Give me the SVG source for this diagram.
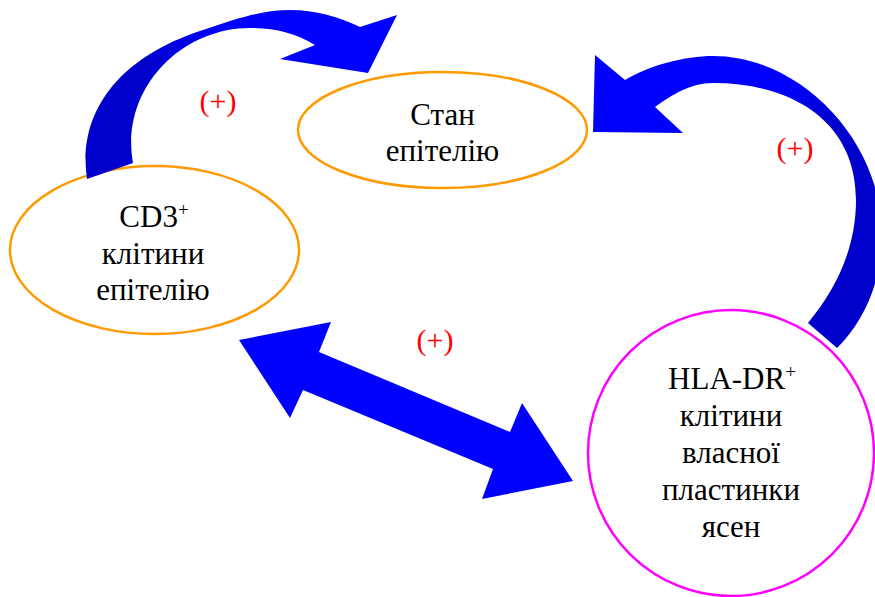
<svg xmlns="http://www.w3.org/2000/svg" width="875" height="597" viewBox="0 0 875 597">
<style>
.node-o{fill:#fff;stroke:#ff9900;stroke-width:2.5}
.node-m{fill:#fff;stroke:#ff00ff;stroke-width:2.5}
.lbl{font-family:"Liberation Serif","Times New Roman",serif;font-size:31px;fill:#000;text-anchor:middle}
.sup{font-size:19px}
.plus{font-family:"Liberation Serif","Times New Roman",serif;font-size:30px;fill:#ff0000;text-anchor:middle}
</style>
<defs>
<linearGradient id="gTop" gradientUnits="userSpaceOnUse" x1="150" y1="70" x2="225" y2="25">
<stop offset="0" stop-color="#0000cc"/>
<stop offset="1" stop-color="#0000ff"/>
</linearGradient>
<linearGradient id="gRight" gradientUnits="userSpaceOnUse" x1="790" y1="75" x2="835" y2="125">
<stop offset="0" stop-color="#0000ff"/>
<stop offset="1" stop-color="#0000cc"/>
</linearGradient>
</defs>
<g id="node-stan">
<ellipse class="node-o" cx="442.5" cy="130" rx="144.5" ry="58"/>
<text class="lbl" x="442.5" y="125">Стан</text>
<text class="lbl" x="442.5" y="161">епітелію</text>
</g>
<g id="node-cd3">
<ellipse class="node-o" cx="154.5" cy="250" rx="144.5" ry="84"/>
<text class="lbl" x="154" y="227">CD3<tspan class="sup" dy="-11">+</tspan></text>
<text class="lbl" x="153" y="264">клітини</text>
<text class="lbl" x="153" y="300">епітелію</text>
</g>
<g id="node-hla">
<circle class="node-m" cx="731" cy="453" r="143"/>
<text class="lbl" x="732" y="389">HLA-DR<tspan class="sup" dy="-11">+</tspan></text>
<text class="lbl" x="731" y="426">клітини</text>
<text class="lbl" x="731" y="463">власної</text>
<text class="lbl" x="731" y="500">пластинки</text>
<text class="lbl" x="731" y="537">ясен</text>
</g>
<g id="connectors">
<path fill="url(#gTop)" d="M87,179 C78,120 110,60 203,30 C240,17 265,10 290,10 C315,10 340,17 360,27 L397,15 L368,73 L280,59 L315,45 C295,33 275,28 250,28 C180,28 120,90 133,163 Z"/>
<path fill="url(#gRight)" d="M625,80 C650,65 685,56 713,56 C800,56 882,140 882,235 C882,280 865,320 837,348 L808,323 C835,290 856,250 856,200 C856,120 790,83 713,83 C690,83 672,95 655,107 L683,133 L593,132 L595,55 Z"/>
<path fill="#0000ff" d="M239,340 L331,322 L319,352 L510,432 L522,403 L573,481 L482,499 L493,469 L303,390 L290,418 Z"/>
<text class="plus" x="218" y="111">(+)</text>
<text class="plus" x="795" y="158">(+)</text>
<text class="plus" x="435" y="350">(+)</text>
</g>
</svg>
